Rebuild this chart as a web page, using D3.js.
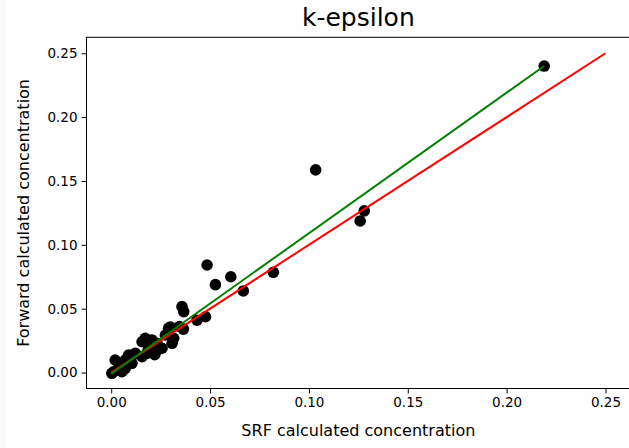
<!DOCTYPE html>
<html>
<head>
<meta charset="utf-8">
<title>k-epsilon</title>
<script src="https://d3js.org/d3.v7.min.js"></script>
<style>
  body { margin: 0; background: #fff; }
  text { font-family: "DejaVu Sans", sans-serif; fill: #000; }
</style>
</head>
<body>
<div id="chart"></div>
<script>
// SRF (x) vs Forward (y) calculated concentration
const srf = [0.219, 0.1034, 0.128, 0.1259, 0.082, 0.0668, 0.0605, 0.0527, 0.0485, 0.0477,
             0.0434, 0.0358, 0.0367, 0.0365, 0.0345, 0.0299, 0.029, 0.0316, 0.0308, 0.0274,
             0.0257, 0.0232, 0.0232, 0.0206, 0.0172, 0.0156, 0.0189, 0.018, 0.0156, 0.0122,
             0.0088, 0.0105, 0.0071, 0.0071, 0.0054, 0.0037, 0.002, 0.0012, 0.0003, 0.022];
const fwd = [0.240, 0.1587, 0.1266, 0.1187, 0.0785, 0.0639, 0.075, 0.0688, 0.0842, 0.0437,
             0.041, 0.0516, 0.0477, 0.034, 0.036, 0.0357, 0.0346, 0.0268, 0.0229, 0.0294,
             0.019, 0.0229, 0.0176, 0.0255, 0.0268, 0.0241, 0.019, 0.015, 0.0124, 0.015,
             0.0137, 0.0072, 0.0098, 0.0033, 0.0006, 0.0072, 0.0098, 0.0006, -0.0006, 0.014];

// reference lines
const idealX = [0, 0.25], idealY = [0, 0.25];          // red, y = x
const fitX = [0.0, 0.219], fitY = [-0.001, 0.240];     // green fit
const ticks = [0, 0.05, 0.10, 0.15, 0.20, 0.25];

const W = 629, H = 448;
const margin = {top: 37.3, left: 86.5};
const width = 543.7, height = 351.2;

const svg = d3.select("#chart").append("svg")
    .attr("width", W).attr("height", H);

// faint strip at left edge of the screenshot
svg.append("rect").attr("x", 0).attr("y", 0).attr("width", 6).attr("height", H)
    .attr("fill", "#f9f9f9");

const g = svg.append("g").attr("transform", `translate(${margin.left},${margin.top})`);

const x = d3.scaleLinear().domain([-0.0125, 0.2625]).range([0, width]);
const y = d3.scaleLinear().domain([-0.0125, 0.2625]).range([height, 0]);

const data = srf.map((v, i) => ({x: v, y: fwd[i]}));

const line = d3.line().x(d => x(d[0])).y(d => y(d[1]));

// points
g.selectAll(".pt").data(data).enter().append("circle")
    .attr("class", "pt")
    .attr("cx", d => x(d.x))
    .attr("cy", d => y(d.y))
    .attr("r", 5.8)
    .attr("fill", "#000");

g.append("path").datum(idealX.map((v, i) => [v, idealY[i]]))
    .attr("d", line).attr("fill", "none").attr("stroke", "#ff0000").attr("stroke-width", 2);

g.append("path").datum(fitX.map((v, i) => [v, fitY[i]]))
    .attr("d", line).attr("fill", "none").attr("stroke", "#008000").attr("stroke-width", 2);

// axes
const xAxis = g.append("g").attr("transform", `translate(0,${height})`)
    .call(d3.axisBottom(x).tickValues(ticks).tickFormat(d3.format(".2f")).tickSize(5).tickPadding(4));
const yAxis = g.append("g")
    .call(d3.axisLeft(y).tickValues(ticks).tickFormat(d3.format(".2f")).tickSize(5).tickPadding(4));

[xAxis, yAxis].forEach(a => {
  a.select(".domain").remove();
  a.selectAll(".tick line").attr("stroke", "#000");
  a.selectAll(".tick text").style("font-size", "13.5px");
});

// frame
g.append("rect").attr("x", 0).attr("y", 0).attr("width", width).attr("height", height)
    .attr("fill", "none").attr("stroke", "#000").attr("stroke-width", 1);

// labels
svg.append("text").attr("x", margin.left + width / 2).attr("y", 26)
    .attr("text-anchor", "middle").style("font-size", "25px").text("k-epsilon");

svg.append("text").attr("x", margin.left + width / 2).attr("y", 436)
    .attr("text-anchor", "middle").style("font-size", "16px").text("SRF calculated concentration");

svg.append("text")
    .attr("transform", `translate(29,${margin.top + height / 2}) rotate(-90)`)
    .attr("text-anchor", "middle").style("font-size", "16px").text("Forward calculated concentration");
</script>
</body>
</html>
